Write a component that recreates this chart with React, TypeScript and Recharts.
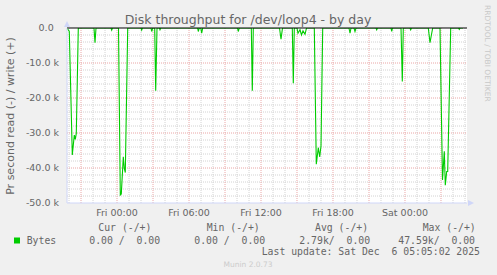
import React from 'react';
import { LineChart, Line, XAxis, YAxis, CartesianGrid, ReferenceLine } from 'recharts';

// time in hours relative to Fri 00:00
const hours = [
  -4.167, -3.975, -3.725, -3.558, -3.475, -3.392, -3.225,
  -1.917, -1.833, -1.75,
  -0.5, -0.442, -0.375,
  0.125, 0.275, 0.358, 0.525, 0.608, 0.692, 0.892,
  2.0, 2.058, 2.117,
  2.833, 2.892, 2.975,
  3.142, 3.225, 3.333,
  3.533, 3.583, 3.65,
  6.717, 6.775, 6.85,
  6.983, 7.058, 7.142,
  10.042, 10.108, 10.183,
  11.192, 11.275, 11.358,
  13.542, 13.667, 13.792,
  14.608, 14.692, 14.775,
  15.0, 15.083, 15.25, 15.375, 15.5, 15.667, 15.792,
  16.442, 16.608, 16.775, 16.892, 17.0, 17.142,
  19.333, 19.417, 19.5,
  19.75, 19.833, 19.917,
  21.583, 21.642, 21.708,
  22.833, 22.892, 22.958,
  23.667, 23.775, 23.858,
  24.417, 24.475, 24.542,
  25.942, 26.083, 26.308,
  26.917, 27.125, 27.275, 27.358, 27.475, 27.558, 27.808,
  28.458, 28.525, 28.592,
  28.833,
];

// bytes per second (read shown negative)
const readBytes = [
  0, -1000, -36300, -30600, -31800, -30100, 0,
  0, -4200, 0,
  0, -600, 0,
  0, -47700, -47400, -36800, -40100, -41300, 0,
  0, -600, 0,
  0, -1000, 0,
  0, -17900, 0,
  0, -500, 0,
  0, -1000, 0,
  0, -1500, 0,
  0, -1000, 0,
  0, -17900, 0,
  0, -3200, 0,
  0, -15800, 0,
  0, -1500, -500, -2000, -800, -1800, 0,
  0, -38900, -34200, -36800, -33700, 0,
  0, -1500, 0,
  0, -1000, 0,
  0, -500, 0,
  0, -1000, 0,
  0, -15300, 0,
  0, -500, 0,
  0, -4200, 0,
  0, -43400, -35200, -44900, -41000, -41000, 0,
  0, -400, 0,
  0,
];

const xDomain = [-4.1667, 29.1667];
const xTickHours = [0, 6, 12, 18, 24];
const xTickLabels = ['Fri 00:00', 'Fri 06:00', 'Fri 12:00', 'Fri 18:00', 'Sat 00:00'];
const yTicks = [0, -10000, -20000, -30000, -40000, -50000];
const yTickLabels = ['0.0', '-10.0 k', '-20.0 k', '-30.0 k', '-40.0 k', '-50.0 k'];

const legendHeaders = ['Cur (-/+)', 'Min (-/+)', 'Avg (-/+)', 'Max (-/+)'];
const legendValues = ['0.00 /  0.00', '0.00 /  0.00', '2.79k/  0.00', '47.59k/  0.00'];
const seriesName = 'Bytes';
const title = 'Disk throughput for /dev/loop4 - by day';
const yLabel = 'Pr second read (-) / write (+)';
const lastUpdate = 'Last update: Sat Dec  6 05:05:02 2025';
const footer = 'Munin 2.0.73';
const sideText = 'RRDTOOL / TOBI OETIKER';

const data = hours.map((h, i) => ({ h, v: readBytes[i] }));

// grid positions
const minorX: number[] = [];
for (let h = -4; h <= 29; h++) if (h % 3 !== 0) minorX.push(h);
const majorX: number[] = [];
for (let h = -3; h <= 27; h += 3) majorX.push(h);
const minorY: number[] = [];
for (let v = -48000; v < 0; v += 2000) if (v % 10000 !== 0) minorY.push(v);
const majorY = [-10000, -20000, -30000, -40000];

const FONT = '"DejaVu Sans", sans-serif';
const MONO = '"DejaVu Sans Mono", monospace';
const TXT = '#666666';
const GREEN = '#00CC00';
const AXIS = '#CFD6F8';
const MINOR = '#d2d2d2';
const MAJOR = '#eaa6a6';

const YTick = (props: any) => {
  const { x, y, payload } = props;
  const idx = yTicks.indexOf(payload.value);
  const label = idx >= 0 ? yTickLabels[idx] : '';
  const shift = payload.value === 0 ? 5.3 : 0;
  return (
    <text x={x - shift} y={y + 3.4} textAnchor="end" fontFamily={FONT} fontSize={9.5} fill={TXT}>
      {label}
    </text>
  );
};

const XTick = (props: any) => {
  const { x, y, payload } = props;
  const idx = xTickHours.indexOf(payload.value);
  const label = idx >= 0 ? xTickLabels[idx] : '';
  return (
    <text x={x} y={y + 4.7} textAnchor="middle" fontFamily={FONT} fontSize={9.5} fill={TXT}>
      {label}
    </text>
  );
};

export default function App() {
  const headerX = [98.3, 206.7, 315, 422.7];
  const valueX = [89.3, 194.3, 299.3, 398.3];
  return (
    <div style={{ position: 'absolute', left: 0, top: 0, width: 497, height: 275, background: '#F0F0F0' }}>
      <LineChart width={497} height={275} data={data} margin={{ top: 28, right: 30, bottom: 0, left: 0 }}>
        <CartesianGrid fill="#ffffff" fillOpacity={1} horizontal={false} vertical={false} stroke="none" />
        {minorY.map((v) => (
          <ReferenceLine key={'my' + v} y={v} stroke={MINOR} strokeDasharray="1 1" />
        ))}
        {minorX.map((h) => (
          <ReferenceLine key={'mx' + h} x={h} stroke={MINOR} strokeDasharray="1 1" />
        ))}
        {majorY.map((v) => (
          <ReferenceLine key={'My' + v} y={v} stroke={MAJOR} strokeDasharray="1 1" />
        ))}
        {majorX.map((h) => (
          <ReferenceLine key={'Mx' + h} x={h} stroke={MAJOR} strokeDasharray="1 1" />
        ))}
        <XAxis
          type="number"
          dataKey="h"
          domain={xDomain}
          ticks={xTickHours}
          height={72}
          axisLine={{ stroke: AXIS }}
          tickLine={false}
          tick={<XTick />}
          allowDataOverflow
        />
        <YAxis
          type="number"
          domain={[-50000, 0]}
          ticks={yTicks}
          width={67}
          axisLine={{ stroke: AXIS }}
          tickLine={false}
          tick={<YTick />}
          allowDataOverflow
        />
        <Line
          type="linear"
          dataKey="v"
          stroke={GREEN}
          strokeWidth={1.1}
          dot={false}
          isAnimationActive={false}
        />
        <ReferenceLine y={0} stroke="#000000" strokeWidth={1} />
      </LineChart>
      <svg
        width={497}
        height={275}
        style={{ position: 'absolute', left: 0, top: 0, pointerEvents: 'none' }}
      >
        <text x={248} y={23.5} textAnchor="middle" fontFamily={FONT} fontSize={12.5} fill={TXT}>
          {title}
        </text>
        <text
          x={14}
          y={116}
          transform="rotate(-90 14 116)"
          textAnchor="middle"
          fontFamily={FONT}
          fontSize={11}
          fill={TXT}
        >
          {yLabel}
        </text>
        <text
          x={485}
          y={5}
          transform="rotate(90 485 5)"
          textAnchor="start"
          fontFamily={FONT}
          fontSize={7.5}
          fill="#c8c8c8"
        >
          {sideText}
        </text>
        <polygon points="64,27 70,27 67,21" fill={AXIS} />
        <polygon points="468,200 468,206 474,203" fill={AXIS} />
        {legendHeaders.map((t, i) => (
          <text key={t} x={headerX[i]} y={230.8} fontFamily={MONO} fontSize={9.8} fill={TXT} style={{ whiteSpace: 'pre' }}>
            {t}
          </text>
        ))}
        <rect x={14} y={237.5} width={6} height={6} fill={GREEN} />
        <text x={26.7} y={243.5} fontFamily={MONO} fontSize={9.8} fill={TXT}>
          {seriesName}
        </text>
        {legendValues.map((t, i) => (
          <text key={i} x={valueX[i]} y={243.5} fontFamily={MONO} fontSize={9.8} fill={TXT} style={{ whiteSpace: 'pre' }}>
            {t}
          </text>
        ))}
        <text x={261.7} y={255.2} fontFamily={MONO} fontSize={9.8} fill={TXT} style={{ whiteSpace: 'pre' }}>
          {lastUpdate}
        </text>
        <text x={248} y={267} textAnchor="middle" fontFamily={FONT} fontSize={7.5} fill="#cccccc">
          {footer}
        </text>
      </svg>
    </div>
  );
}
